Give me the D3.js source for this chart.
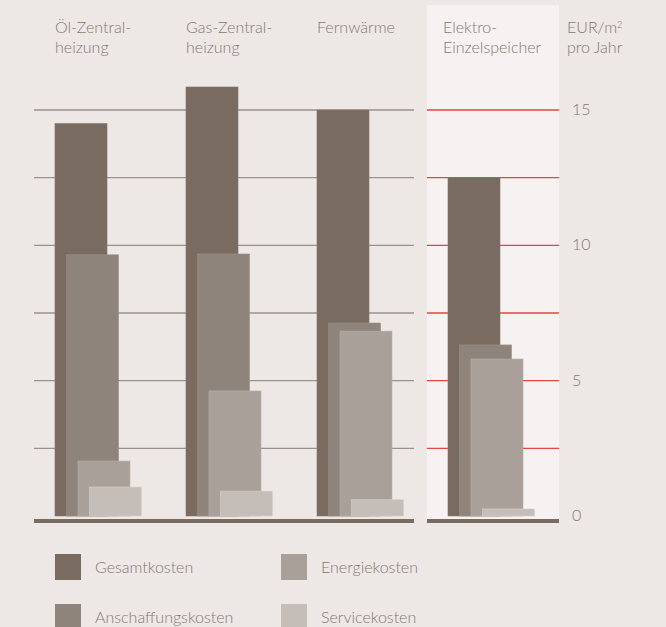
<!DOCTYPE html>
<html>
<head>
<meta charset="utf-8">
<script src="https://cdn.jsdelivr.net/npm/d3@7"></script>
<style>
  body { margin: 0; background: #ede7e6; }
  svg { display: block; }
  text { font-family: "Lato", "Open Sans", sans-serif; font-weight: 300; fill: #857870; }
</style>
</head>
<body>
<div id="chart"></div>
<script>
var categories = ["Öl-Zentral-\nheizung", "Gas-Zentral-\nheizung", "Fernwärme", "Elektro-\nEinzelspeicher"];
var seriesNames = ["Gesamtkosten", "Anschaffungskosten", "Energiekosten", "Servicekosten"];
var gesamt = [14.5, 15.85, 15.0, 12.5];
var anschaffung = [9.65, 9.68, 7.13, 6.32];
var energie = [2.03, 4.62, 6.83, 5.8];
var service = [1.07, 0.92, 0.6, 0.26];
var yTicks = [0, 5, 10, 15];
var gridValues = [2.5, 5, 7.5, 10, 12.5, 15];

var colors = ["#7a6b61", "#8f847b", "#a9a09a", "#c5bdb8"];
var allSeries = [gesamt, anschaffung, energie, service];

var width = 666, height = 627;

var svg = d3.select("#chart")
    .append("svg")
    .attr("width", width)
    .attr("height", height);

var y = d3.scaleLinear()
    .domain([0, 15])
    .range([516, 110]);

// start of each group
var x = d3.scalePoint()
    .domain(categories)
    .range([55, 448]);

// offset of each series inside a group
var xs = d3.scalePoint()
    .domain(seriesNames)
    .range([0, 34.5]);

var barW = 52;

// light panel behind the electric heating
svg.append("rect")
    .attr("x", 427)
    .attr("y", 5)
    .attr("width", 132)
    .attr("height", 518)
    .attr("fill", "#f6f2f1");

// gridlines, grey for the left part, red in the panel
svg.selectAll("gridGrey")
    .data(gridValues)
    .enter()
    .append("line")
    .attr("x1", 34)
    .attr("x2", 414)
    .attr("y1", function (d) { return y(d) })
    .attr("y2", function (d) { return y(d) })
    .attr("stroke", "#9c928b")
    .attr("stroke-width", 1.3);

svg.selectAll("gridRed")
    .data(gridValues)
    .enter()
    .append("line")
    .attr("x1", 427)
    .attr("x2", 559)
    .attr("y1", function (d) { return y(d) })
    .attr("y2", function (d) { return y(d) })
    .attr("stroke", "#e2463f")
    .attr("stroke-width", 1.3);

// bars
allSeries.forEach(function (values, si) {
    svg.append("g")
        .selectAll("rect")
        .data(values)
        .enter()
        .append("rect")
        .attr("x", function (d, i) { return x(categories[i]) + xs(seriesNames[si]) })
        .attr("y", function (d) { return y(d) })
        .attr("width", barW)
        .attr("height", function (d) { return y(0) - y(d) })
        .attr("fill", colors[si])
        .attr("stroke", d3.color(colors[si]).brighter(0.25))
        .attr("stroke-width", 0.6);
});

// base bars
svg.append("rect")
    .attr("x", 34).attr("y", 519)
    .attr("width", 380).attr("height", 4)
    .attr("fill", "#7a6b61");
svg.append("rect")
    .attr("x", 427).attr("y", 519)
    .attr("width", 132).attr("height", 4)
    .attr("fill", "#7a6b61");

// category labels
svg.selectAll("catLabels")
    .data(categories)
    .enter()
    .append("text")
    .attr("x", function (d, i) { return x(d) + (i == 3 ? -5 : 0) })
    .attr("y", 33)
    .style("font-size", "16px")
    .each(function (d) {
        var lines = d.split("\n");
        d3.select(this).selectAll("tspan")
            .data(lines)
            .enter()
            .append("tspan")
            .attr("x", d3.select(this).attr("x"))
            .attr("dy", function (l, j) { return j == 0 ? 0 : 20 })
            .text(function (l) { return l });
    });

// unit
var unit = svg.append("text")
    .attr("x", 567)
    .attr("y", 33)
    .style("font-size", "16px");
unit.append("tspan").text("EUR/m");
unit.append("tspan").attr("dy", -5).style("font-size", "9px").text("2");
unit.append("tspan").attr("x", 567).attr("dy", 25).text("pro Jahr");

// y axis labels
svg.selectAll("yLabels")
    .data(yTicks)
    .enter()
    .append("text")
    .attr("x", 572)
    .attr("y", function (d) { return y(d) + 5 })
    .style("font-size", "16px")
    .text(function (d) { return d });

// legend
var legendPos = [[55, 554], [281, 554], [55, 604], [281, 604]];
var legendOrder = [0, 2, 1, 3];
legendOrder.forEach(function (si, k) {
    var p = legendPos[k];
    svg.append("rect")
        .attr("x", p[0]).attr("y", p[1])
        .attr("width", 26).attr("height", 26)
        .attr("fill", colors[si]);
    svg.append("text")
        .attr("x", p[0] + 40)
        .attr("y", p[1] + 19)
        .style("font-size", "16px")
        .text(seriesNames[si]);
});
</script>
</body>
</html>
